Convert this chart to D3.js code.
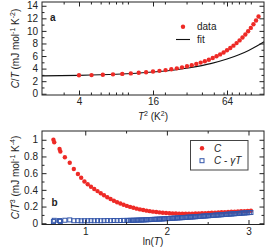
<!DOCTYPE html>
<html>
<head>
<meta charset="utf-8">
<script src="https://cdn.jsdelivr.net/npm/d3@7"></script>
<style>
  body { margin: 0; background: #fff; }
  svg { display: block; }
  text { font-family: "Liberation Sans", Arial, Helvetica, sans-serif; fill: #222; }
</style>
</head>
<body>
<svg width="270" height="250"></svg>
<script>
// ---- panel a : C/T vs T^2 (log axis)
var aT2 = [4.00, 5.06, 6.25, 7.56, 9.00, 10.56, 12.25, 14.06, 16.00, 18.06, 20.25, 22.56,
           25.00, 27.56, 30.25, 33.06, 36.00, 39.06, 42.25, 45.56, 49.00, 52.56, 56.25, 60.06,
           64.00, 68.06, 72.25, 76.56, 81.00, 85.56, 90.25, 95.06, 100.0, 105.06, 110.25, 115.56];
var aCT = [2.94, 2.97, 3.02, 3.09, 3.16, 3.24, 3.33, 3.42, 3.53, 3.64, 3.76, 3.90,
           4.04, 4.20, 4.37, 4.55, 4.75, 4.96, 5.18, 5.42, 5.68, 5.96, 6.26, 6.57,
           6.91, 7.27, 7.65, 8.06, 8.49, 8.94, 9.43, 9.94, 10.48, 11.05, 11.66, 12.30];
var fitT2 = [2, 4, 8, 16, 24, 32, 48, 64, 80, 96, 112, 128];
var fitCT = [2.85, 2.93, 3.10, 3.45, 3.79, 4.14, 4.83, 5.52, 6.21, 6.90, 7.59, 8.28];
var aXTicks = [4, 16, 64];
var aXMinor = [3, 5, 6, 7, 8, 9, 10, 20, 30, 40, 50, 60, 70, 80, 90, 100];
var aYTicks = [0, 2, 4, 6, 8, 10, 12, 14];
var aYMinor = [1, 3, 5, 7, 9, 11, 13];

// ---- panel b : C/T^3 vs ln(T)
var bLnT = [0.61, 0.62, 0.685, 0.695, 0.75, 0.81, 0.86, 0.91, 0.95, 0.99, 1.03, 1.07, 1.11, 1.15,
            1.19, 1.23, 1.27, 1.31, 1.35, 1.39, 1.43, 1.47, 1.51, 1.55, 1.59, 1.63, 1.67, 1.71,
            1.75, 1.79, 1.83, 1.87, 1.91, 1.95, 1.99, 2.03, 2.07, 2.11, 2.15, 2.19, 2.23, 2.27,
            2.31, 2.35, 2.39, 2.43, 2.47, 2.51, 2.55, 2.59, 2.63, 2.67, 2.71, 2.75, 2.79, 2.83,
            2.87, 2.91, 2.95, 2.99, 3.03];
var bC = [1.00, 0.97, 0.89, 0.86, 0.79, 0.725, 0.65, 0.59, 0.545, 0.50, 0.468, 0.438, 0.41, 0.385,
          0.36, 0.335, 0.312, 0.29, 0.27, 0.252, 0.236, 0.221, 0.208, 0.196, 0.185, 0.175, 0.166, 0.158,
          0.151, 0.145, 0.139, 0.134, 0.130, 0.126, 0.123, 0.120, 0.118, 0.116, 0.115, 0.114, 0.114, 0.114,
          0.115, 0.116, 0.117, 0.119, 0.121, 0.123, 0.125, 0.127, 0.129, 0.131, 0.133, 0.135, 0.137, 0.139,
          0.141, 0.143, 0.145, 0.147, 0.149];
// C - gamma*T series, sampled more densely where the squares merge into a band
var bLnTg = [0.61, 0.62, 0.685, 0.695, 0.75, 0.81, 0.86, 0.91, 0.95, 0.99, 1.03, 1.07, 1.11, 1.15,
             1.19, 1.23, 1.27, 1.31, 1.35, 1.39, 1.43, 1.47,
             1.51, 1.53, 1.55, 1.57, 1.59, 1.61, 1.63, 1.65, 1.67, 1.69, 1.71, 1.73, 1.75, 1.77,
             1.79, 1.81, 1.83, 1.85, 1.87, 1.89, 1.91, 1.93, 1.95, 1.97, 1.99, 2.01, 2.03, 2.05,
             2.07, 2.09, 2.11, 2.13, 2.15, 2.17, 2.19, 2.21, 2.23, 2.25, 2.27, 2.29, 2.31, 2.33,
             2.35, 2.37, 2.39, 2.41, 2.43, 2.45, 2.47, 2.49, 2.51, 2.53, 2.55, 2.57, 2.59, 2.61,
             2.63, 2.65, 2.67, 2.69, 2.71, 2.73, 2.75, 2.77, 2.79, 2.81, 2.83, 2.85, 2.87, 2.89,
             2.91, 2.93, 2.95, 2.97, 2.99, 3.01, 3.03];
var bCg = [0.020, 0.035, 0.032, 0.022, 0.036, 0.040, 0.030, 0.031, 0.029, 0.030, 0.030, 0.031, 0.030, 0.031,
           0.030, 0.031, 0.032, 0.031, 0.033, 0.032, 0.033, 0.034,
           0.034, 0.034, 0.035, 0.035, 0.036, 0.036, 0.037, 0.038, 0.039, 0.039, 0.040, 0.041, 0.042, 0.043,
           0.044, 0.045, 0.046, 0.047, 0.048, 0.049, 0.050, 0.051, 0.052, 0.054, 0.055, 0.056, 0.057, 0.059,
           0.060, 0.061, 0.062, 0.064, 0.065, 0.066, 0.067, 0.069, 0.070, 0.072, 0.073, 0.074, 0.075, 0.077,
           0.078, 0.080, 0.081, 0.083, 0.084, 0.086, 0.087, 0.089, 0.090, 0.092, 0.093, 0.095, 0.096, 0.098,
           0.099, 0.101, 0.102, 0.104, 0.105, 0.107, 0.108, 0.110, 0.111, 0.113, 0.114, 0.116, 0.117, 0.119,
           0.120, 0.122, 0.123, 0.125, 0.126, 0.128, 0.129];
var bXTicks = [1, 2, 3];
var bXMinor = [1.5, 2.5];
var bYTicks = [0, 0.2, 0.4, 0.6, 0.8, 1];
var bYMinor = [0.1, 0.3, 0.5, 0.7, 0.9];

var RED = "#ee2a26", BLUE = "#3356aa", INK = "#222";
var left = 42, right = 264;
var svg = d3.select("svg");

function drawFrame(x, y, xMaj, xMin, yMaj, yMin, fx, fy) {
    var bottom = y.range()[0], top = y.range()[1];
    var g = svg.append("g");
    g.append("g").attr("transform", "translate(0," + bottom + ")")
        .call(d3.axisBottom(x).tickValues(xMaj).tickSize(-4.5).tickPadding(3).tickFormat(fx));
    g.append("g").attr("transform", "translate(0," + bottom + ")")
        .call(d3.axisBottom(x).tickValues(xMin).tickSize(-2.5).tickFormat(""));
    g.append("g").attr("transform", "translate(0," + top + ")")
        .call(d3.axisTop(x).tickValues(xMaj).tickSize(-4.5).tickFormat(""));
    g.append("g").attr("transform", "translate(0," + top + ")")
        .call(d3.axisTop(x).tickValues(xMin).tickSize(-2.5).tickFormat(""));
    g.append("g").attr("transform", "translate(" + left + ",0)")
        .call(d3.axisLeft(y).tickValues(yMaj).tickSize(-4.5).tickPadding(4).tickFormat(fy));
    g.append("g").attr("transform", "translate(" + left + ",0)")
        .call(d3.axisLeft(y).tickValues(yMin).tickSize(-2.5).tickFormat(""));
    g.append("g").attr("transform", "translate(" + right + ",0)")
        .call(d3.axisRight(y).tickValues(yMaj).tickSize(-4.5).tickFormat(""));
    g.append("g").attr("transform", "translate(" + right + ",0)")
        .call(d3.axisRight(y).tickValues(yMin).tickSize(-2.5).tickFormat(""));
    g.selectAll(".domain").remove();
    g.selectAll("g").attr("font-family", null).attr("font-size", null);
    g.selectAll(".tick line").attr("stroke", INK);
    g.selectAll(".tick text").attr("font-size", 10).attr("fill", INK);
    g.append("rect")
        .attr("x", left).attr("y", top)
        .attr("width", right - left).attr("height", bottom - top)
        .attr("fill", "none").attr("stroke", INK).attr("stroke-width", 1);
}

// ============ panel a
var xa = d3.scaleLog().base(2).domain([2, 128]).range([left, right]);
var ya = d3.scaleLinear().domain([-0.2, 14.6]).range([95, 2]);

svg.append("path")
    .datum(fitT2.map(function(d, i) { return [d, fitCT[i]]; }))
    .attr("fill", "none")
    .attr("stroke", "#111")
    .attr("stroke-width", 1.1)
    .attr("d", d3.line()
        .x(function(d) { return xa(d[0]); })
        .y(function(d) { return ya(d[1]); })
        .curve(d3.curveMonotoneX));

svg.append("g").selectAll("circle")
    .data(aT2)
    .enter().append("circle")
    .attr("cx", function(d) { return xa(d); })
    .attr("cy", function(d, i) { return ya(aCT[i]); })
    .attr("r", 2.2)
    .attr("fill", RED);

drawFrame(xa, ya, aXTicks, aXMinor, aYTicks, aYMinor, d3.format("d"), d3.format("d"));

svg.append("text").attr("x", 50).attr("y", 20.5)
    .attr("font-size", 10).attr("font-weight", "bold").text("a");

// legend a
svg.append("circle").attr("cx", 183).attr("cy", 26.7).attr("r", 2.2).attr("fill", RED);
svg.append("text").attr("x", 197).attr("y", 30.3).attr("font-size", 10).text("data");
svg.append("line").attr("x1", 176).attr("x2", 190).attr("y1", 39.5).attr("y2", 39.5)
    .attr("stroke", "#111").attr("stroke-width", 1.1);
svg.append("text").attr("x", 197).attr("y", 43).attr("font-size", 10).text("fit");

// axis titles a
var ta = svg.append("text").attr("transform", "translate(19,48.5) rotate(-90)")
    .attr("text-anchor", "middle").attr("font-size", 10);
ta.append("tspan").attr("font-style", "italic").text("C");
ta.append("tspan").text("/");
ta.append("tspan").attr("font-style", "italic").text("T");
ta.append("tspan").text(" (mJ mol");
ta.append("tspan").attr("font-size", 7).attr("dy", -4).text("-1");
ta.append("tspan").attr("dy", 4).text(" K");
ta.append("tspan").attr("font-size", 7).attr("dy", -4).text("-2");
ta.append("tspan").attr("dy", 4).text(")");

var xta = svg.append("text").attr("x", 153).attr("y", 119.5)
    .attr("text-anchor", "middle").attr("font-size", 10);
xta.append("tspan").attr("font-style", "italic").text("T");
xta.append("tspan").attr("font-size", 7).attr("dy", -4).text("2");
xta.append("tspan").attr("dy", 4).text(" (K");
xta.append("tspan").attr("font-size", 7).attr("dy", -4).text("2");
xta.append("tspan").attr("dy", 4).text(")");

// ============ panel b
var xb = d3.scaleLinear().domain([0.47, 3.19]).range([left, right]);
var yb = d3.scaleLinear().domain([-0.015, 1.105]).range([224.5, 131]);

svg.append("g").selectAll("circle")
    .data(bLnT)
    .enter().append("circle")
    .attr("cx", function(d) { return xb(d); })
    .attr("cy", function(d, i) { return yb(bC[i]); })
    .attr("r", 2.2)
    .attr("fill", RED);

svg.append("g").selectAll("rect")
    .data(bLnTg)
    .enter().append("rect")
    .attr("x", function(d) { return xb(d) - 2; })
    .attr("y", function(d, i) { return yb(bCg[i]) - 2; })
    .attr("width", 4).attr("height", 4)
    .attr("fill", "none")
    .attr("stroke", BLUE)
    .attr("stroke-width", 1);

drawFrame(xb, yb, bXTicks, bXMinor, bYTicks, bYMinor, d3.format("d"), d3.format("~g"));

svg.append("text").attr("x", 51.5).attr("y", 206)
    .attr("font-size", 10).attr("font-weight", "bold").text("b");

// legend b
svg.append("rect").attr("x", 190.5).attr("y", 140.5).attr("width", 57.5).attr("height", 29.5)
    .attr("fill", "#fff").attr("stroke", "#444").attr("stroke-width", 1);
svg.append("circle").attr("cx", 202).attr("cy", 148.3).attr("r", 2.2).attr("fill", RED);
svg.append("text").attr("x", 214).attr("y", 151.9).attr("font-size", 10)
    .attr("font-style", "italic").text("C");
svg.append("rect").attr("x", 200).attr("y", 158.7).attr("width", 4).attr("height", 4)
    .attr("fill", "none").attr("stroke", BLUE).attr("stroke-width", 1);
var lb = svg.append("text").attr("x", 214).attr("y", 164.3).attr("font-size", 10);
lb.append("tspan").attr("font-style", "italic").text("C");
lb.append("tspan").text(" - ");
lb.append("tspan").attr("font-style", "italic").text("γT");

// axis titles b
var tb = svg.append("text").attr("transform", "translate(19,177.5) rotate(-90)")
    .attr("text-anchor", "middle").attr("font-size", 10);
tb.append("tspan").attr("font-style", "italic").text("C");
tb.append("tspan").text("/");
tb.append("tspan").attr("font-style", "italic").text("T");
tb.append("tspan").attr("font-size", 7).attr("dy", -4).text("3");
tb.append("tspan").attr("dy", 4).text(" (mJ mol");
tb.append("tspan").attr("font-size", 7).attr("dy", -4).text("-1");
tb.append("tspan").attr("dy", 4).text(" K");
tb.append("tspan").attr("font-size", 7).attr("dy", -4).text("-4");
tb.append("tspan").attr("dy", 4).text(")");

var xtb = svg.append("text").attr("x", 153).attr("y", 244.5)
    .attr("text-anchor", "middle").attr("font-size", 10);
xtb.append("tspan").text("ln(");
xtb.append("tspan").attr("font-style", "italic").text("T");
xtb.append("tspan").text(")");
</script>
</body>
</html>
